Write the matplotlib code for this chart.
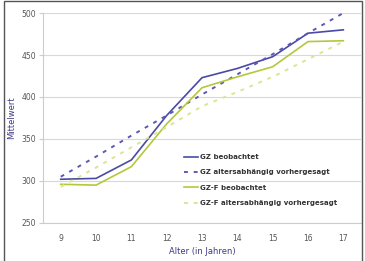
import matplotlib
matplotlib.use("Agg")
import matplotlib.pyplot as plt
from matplotlib.patches import Rectangle

ages = [9, 10, 11, 12, 13, 14, 15, 16, 17]
gz_obs = [302, 303, 325, 378, 423, 434, 448, 476, 480]
gz_pred = [305, 329, 354, 378, 403, 427, 451, 476, 500]
gzf_obs = [296, 295, 317, 368, 411, 424, 436, 466, 467]
gzf_pred = [293, 316, 340, 364, 389, 406, 424, 445, 466]
yticks = [250, 300, 350, 400, 450, 500]
labels = ["GZ beobachtet", "GZ altersabhängig vorhergesagt",
          "GZ-F beobachtet", "GZ-F altersabhängig vorhergesagt"]

fig = plt.figure(figsize=(3.65, 2.61), dpi=100)
ax = fig.add_axes([0.118, 0.146, 0.871, 0.804])

x = list(range(len(ages)))
blue = "#4a4aa6"
green = "#b4c83c"
lgreen = "#dbe595"
ax.plot(x, gz_obs, color=blue, lw=1.2, label=labels[0])
ax.plot(x, gz_pred, color="#5a5ab4", lw=1.4, ls=(0, (2, 3)), label=labels[1])
ax.plot(x, gzf_obs, color=green, lw=1.2, label=labels[2])
ax.plot(x, gzf_pred, color=lgreen, lw=1.4, ls=(0, (2, 3)), label=labels[3])

ax.set_xlim(-0.5, len(ages) - 0.5)
ax.set_ylim(250, 500)
ax.set_xticks(x)
ax.set_xticklabels([str(a) for a in ages])
ax.set_yticks(yticks)
ax.grid(axis="y", color="#d8d8d8", lw=0.8)
ax.set_axisbelow(True)
for s in ["top", "right"]:
    ax.spines[s].set_visible(False)
ax.spines["left"].set_color("#cccccc")
ax.spines["bottom"].set_color("#cccccc")
ax.tick_params(axis="y", length=3, color="#cccccc", labelsize=5.5, labelcolor="#555555", pad=2)
ax.tick_params(axis="x", length=0, labelsize=5.5, labelcolor="#555555", pad=8)
ax.set_ylabel("Mittelwert", fontsize=6, color="#3a3a8a", labelpad=4)
ax.set_xlabel("Alter (in Jahren)", fontsize=6, color="#3a3a8a", labelpad=3)

leg = ax.legend(loc="lower right", bbox_to_anchor=(0.945, 0.05), frameon=False,
                fontsize=5, handlelength=2.0, handletextpad=0.3, labelspacing=1.35)
for t in leg.get_texts():
    t.set_color("#333333")
    t.set_fontweight("bold")

fig.patches.append(Rectangle((0.012, -0.01), 0.98, 1.005, transform=fig.transFigure,
                             fill=False, edgecolor="#555555", lw=1.0))

fig.savefig("out.png", dpi=100)
